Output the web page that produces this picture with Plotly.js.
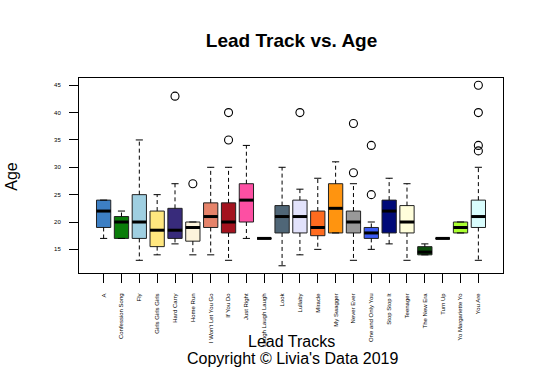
<!DOCTYPE html>
<html>
<head>
<meta charset="utf-8">
<script src="https://cdn.plot.ly/plotly-3.0.1.min.js"></script>
<style>html,body{margin:0;padding:0;background:#fff;}#chart{width:545px;height:372px;}</style>
</head>
<body>
<div id="chart"></div>
<script>
var tracks = ["A","Confession Song","Fly","Girls Girls Girls","Hard Carry","Home Run","I Won't Let You Go","If You Do","Just Right","Laugh Laugh Laugh","Look","Lullaby","Miracle","My Swagger","Never Ever","One and Only You","Stop Stop It","Teenager","The New Era","Turn Up","Yo Margariette Yo","You Are"];
var lowerWhisker = [17,17,13,14,16,14,14,13,17,17,12,14,15,18,13,15,16,13,14,17,18,13];
var q1Age       = [19,17,17,15.5,17,16.5,19,18,20,17,18,18,17.5,18,18,17,18,18,14,17,18,19];
var medianAge   = [22,20,20,18.5,18.5,19,21,20,24,17,21,21,19,22.5,20,18,22,20,14.5,17,19,21];
var q3Age       = [24,21,25,22,22.5,20,23.5,23.5,27,17,23,24,22,27,22,19,24,23,15.5,17,20,24];
var upperWhisker= [24,22,35,25,27,20,30,30,34,17,30,26,28,31,27,20,28,27,16,17,20,30];
var boxColors = ["#3d7fc4","#0a7d0a","#9fcfe1","#ffe77f","#382b7b","#fdf4dc","#e6836a","#a3121e","#fd4fa3","#000000","#4f6677","#e2e2fb","#ff6b1f","#ff940f","#999999","#3b5bf5","#000a78","#fffedb","#0b4d0b","#000000","#aaff30","#d9fdfd"];
var outlierTrack = ["Hard Carry","Home Run","If You Do","If You Do","Lullaby","Never Ever","Never Ever","One and Only You","One and Only You","You Are","You Are","You Are","You Are"];
var outlierAge   = [43,27,40,35,40,38,29,34,25,45,40,34,33];

var pos = tracks.map(function(_, i){ return i + 1; });
var traces = [];

// dashed whiskers
var wx = [], wy = [];
pos.forEach(function(p, i){
  wx.push(p, p, null, p, p, null);
  wy.push(q3Age[i], upperWhisker[i], null, q1Age[i], lowerWhisker[i], null);
});
traces.push({type:'scatter', mode:'lines', x:wx, y:wy, line:{color:'#000', width:1, dash:'4px,3px'}, hoverinfo:'skip', showlegend:false});

// boxes
pos.forEach(function(p, i){
  traces.push({type:'box', x:[p], q1:[q1Age[i]], median:[medianAge[i]], q3:[q3Age[i]],
    lowerfence:[q1Age[i]], upperfence:[q3Age[i]], width:0.8, whiskerwidth:0,
    fillcolor:boxColors[i], line:{color:'#222', width:1}, boxpoints:false,
    hoverinfo:'skip', showlegend:false, name:tracks[i]});
});

// staples
var sx = [], sy = [];
pos.forEach(function(p, i){
  sx.push(p - 0.2, p + 0.2, null, p - 0.2, p + 0.2, null);
  sy.push(upperWhisker[i], upperWhisker[i], null, lowerWhisker[i], lowerWhisker[i], null);
});
traces.push({type:'scatter', mode:'lines', x:sx, y:sy, line:{color:'#000', width:1}, hoverinfo:'skip', showlegend:false});

// thick medians
var mx = [], my = [];
pos.forEach(function(p, i){
  mx.push(p - 0.4, p + 0.4, null);
  my.push(medianAge[i], medianAge[i], null);
});
traces.push({type:'scatter', mode:'lines', x:mx, y:my, line:{color:'#000', width:3}, hoverinfo:'skip', showlegend:false});

// outliers
traces.push({type:'scatter', mode:'markers',
  x: outlierTrack.map(function(t){ return tracks.indexOf(t) + 1; }), y: outlierAge,
  marker:{symbol:'circle-open', size:8, color:'#000', line:{width:1.1, color:'#000'}},
  hoverinfo:'skip', showlegend:false});

var fontFam = 'Liberation Sans, Arial, Helvetica, sans-serif';
var layout = {
  width:545, height:372,
  margin:{l:79, r:42, t:78, b:99, pad:0},
  paper_bgcolor:'#fff', plot_bgcolor:'#fff',
  showlegend:false,
  font:{family:fontFam, color:'#000'},
  title:{text:'Lead Track vs. Age', font:{family:fontFam, size:19, weight:700, color:'#000'},
    x:0.535, xref:'container', xanchor:'center', y:1-40.5/372, yref:'container', yanchor:'middle'},
  xaxis:{range:[-0.38, 23.38], tickmode:'array', tickvals:pos, ticktext:tracks, tickangle:-90,
    ticks:'outside', ticklen:9, tickwidth:1, tickcolor:'#000', tickfont:{size:6, family:fontFam, color:'#000'},
    ticklabelstandoff:8,
    showline:true, mirror:true, linecolor:'#000', linewidth:1, showgrid:false, zeroline:false, fixedrange:true},
  yaxis:{range:[10.68, 46.32], tickmode:'array', tickvals:[15,20,25,30,35,40,45],
    ticks:'outside', ticklen:9, tickwidth:1, tickcolor:'#000', tickfont:{size:6, family:fontFam, color:'#000'},
    ticklabelstandoff:7,
    showline:true, mirror:true, linecolor:'#000', linewidth:1, showgrid:false, zeroline:false, fixedrange:true},
  annotations:[
    {text:'Age', xref:'paper', yref:'paper', x:(12-79)/424, y:(273-176.7)/195, textangle:-90,
      showarrow:false, xanchor:'center', yanchor:'middle', font:{size:16, family:fontFam, color:'#000'}},
    {text:'Lead Tracks', xref:'paper', yref:'paper', x:(291.7-79)/424, y:(273-341.5)/195,
      showarrow:false, xanchor:'center', yanchor:'middle', font:{size:16, family:fontFam, color:'#000'}},
    {text:"Copyright \u00a9 Livia's Data 2019", xref:'paper', yref:'paper', x:(293.3-79)/424, y:(273-358)/195,
      showarrow:false, xanchor:'center', yanchor:'middle', font:{size:16, family:fontFam, color:'#000'}}
  ]
};
Plotly.newPlot('chart', traces, layout, {staticPlot:true, displayModeBar:false});
</script>
</body>
</html>
